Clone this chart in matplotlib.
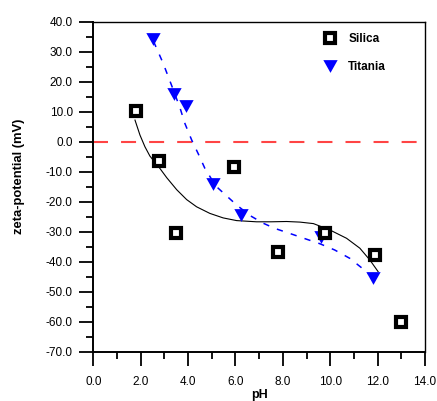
import matplotlib
matplotlib.use("Agg")
import matplotlib.pyplot as plt
from matplotlib.ticker import MultipleLocator, FormatStrFormatter
from matplotlib.path import Path

plt.rcParams['font.family'] = ['Liberation Sans', 'DejaVu Sans']
plt.rcParams['lines.scale_dashes'] = False

# Data
silica_ph = [1.8, 2.77, 3.49, 5.92, 7.79, 9.78, 11.9, 13.0]
silica_zeta = [10.2, -6.5, -30.3, -8.5, -36.9, -30.3, -37.8, -60.2]

titania_ph = [2.54, 3.39, 3.91, 5.07, 6.23, 9.6, 11.82]
titania_zeta = [34.1, 15.9, 11.9, -14.2, -24.4, -31.7, -45.5]

# Fitted curves
silica_fit_ph = [1.76, 1.97, 2.18, 2.39, 2.81, 3.1, 3.52, 3.94, 4.36, 4.92, 5.48,
                 6.05, 6.89, 7.5, 8.16, 8.72, 9.29, 9.98, 10.69, 11.25, 11.67, 12.02]
silica_fit_zeta = [7.2, 2.2, -1.7, -4.8, -8.9, -12.0, -16.0, -19.3, -21.7, -23.9, -25.4,
                   -26.3, -26.7, -26.7, -26.6, -26.8, -27.3, -29.4, -32.2, -35.5, -39.4, -43.3]

titania_fit_ph = [2.54, 2.95, 3.39, 3.67, 3.87, 4.15, 4.44, 4.71, 5.0, 5.27, 5.7, 6.05,
                  6.61, 7.18, 7.66, 8.3, 9.0, 9.56, 10.19, 10.83, 11.32, 11.67, 11.85]
titania_fit_zeta = [33.5, 26.1, 17.0, 11.0, 6.0, 0.6, -4.2, -8.9, -12.6, -15.5, -18.6, -21.1,
                    -24.6, -27.2, -28.9, -30.6, -32.5, -34.0, -36.1, -38.9, -42.0, -44.4, -45.5]

ref_ph = [0.0, 14.0]
ref_zeta = [0.0, 0.0]

labels = ['Silica', 'Titania']

fig = plt.figure(figsize=(4.37, 4.01), dpi=100)
ax = fig.add_axes([93.3/437, 1-351.7/401, (425-93.3)/437, (351.7-21.7)/401])

ax.plot(ref_ph, ref_zeta, color='#ff4444', lw=1.5, dashes=(10.8, 9.4), zorder=1,
        dash_capstyle='butt')
ax.plot(silica_fit_ph, silica_fit_zeta, color='black', lw=0.8, zorder=2,
        solid_joinstyle='round')
ax.plot(titania_fit_ph, titania_fit_zeta, color='#0000ff', lw=1.1, dashes=(4.5, 6.0), zorder=2,
        dash_capstyle='butt')

# downward-pointing triangle, slightly wider than tall
tri = Path([(-1, 0.89), (1, 0.89), (0, -0.89), (-1, 0.89)],
           [Path.MOVETO, Path.LINETO, Path.LINETO, Path.CLOSEPOLY])

h1, = ax.plot(silica_ph, silica_zeta, ls='none', marker='s', ms=6.6, mew=3.0,
              mfc='white', mec='black', zorder=4, label=labels[0])
h2, = ax.plot(titania_ph, titania_zeta, ls='none', marker=tri, ms=10.3, mew=0,
              mfc='#0000ff', mec='#0000ff', zorder=3, label=labels[1])

ax.set_xlim(0, 14)
ax.set_ylim(-70, 40)
ax.xaxis.set_major_locator(MultipleLocator(2))
ax.xaxis.set_minor_locator(MultipleLocator(1))
ax.yaxis.set_major_locator(MultipleLocator(10))
ax.yaxis.set_minor_locator(MultipleLocator(5))
ax.xaxis.set_major_formatter(FormatStrFormatter('%.1f'))
ax.yaxis.set_major_formatter(FormatStrFormatter('%.1f'))

ax.tick_params(which='major', direction='out', length=9.8, width=1.3, labelsize=8.5,
               top=False, right=False, color='black')
ax.tick_params(which='minor', direction='out', length=4.9, width=1.3, top=False, right=False)
ax.tick_params(axis='x', which='major', pad=7.5)
ax.tick_params(axis='y', which='major', pad=5.0)

for s in ['left', 'bottom']:
    ax.spines[s].set_linewidth(1.4)
for s in ['top', 'right']:
    ax.spines[s].set_linewidth(1.0)

ax.set_ylabel('zeta-potential (mV)', fontsize=9.4, fontweight='bold')
ax.yaxis.set_label_coords(-0.205, 0.531)
ax.set_xlabel('pH', fontsize=9.0, fontweight='bold', va='top')
ax.xaxis.set_label_coords(0.5, -0.113)

leg = ax.legend(handles=[h1, h2], loc='upper left', bbox_to_anchor=(0.696, 0.966),
                frameon=False, handlelength=1.0, handletextpad=1.05,
                labelspacing=1.4, borderpad=0, borderaxespad=0, numpoints=1,
                prop={'weight': 'bold', 'size': 8.5})

fig.savefig('out.png', dpi=100)
